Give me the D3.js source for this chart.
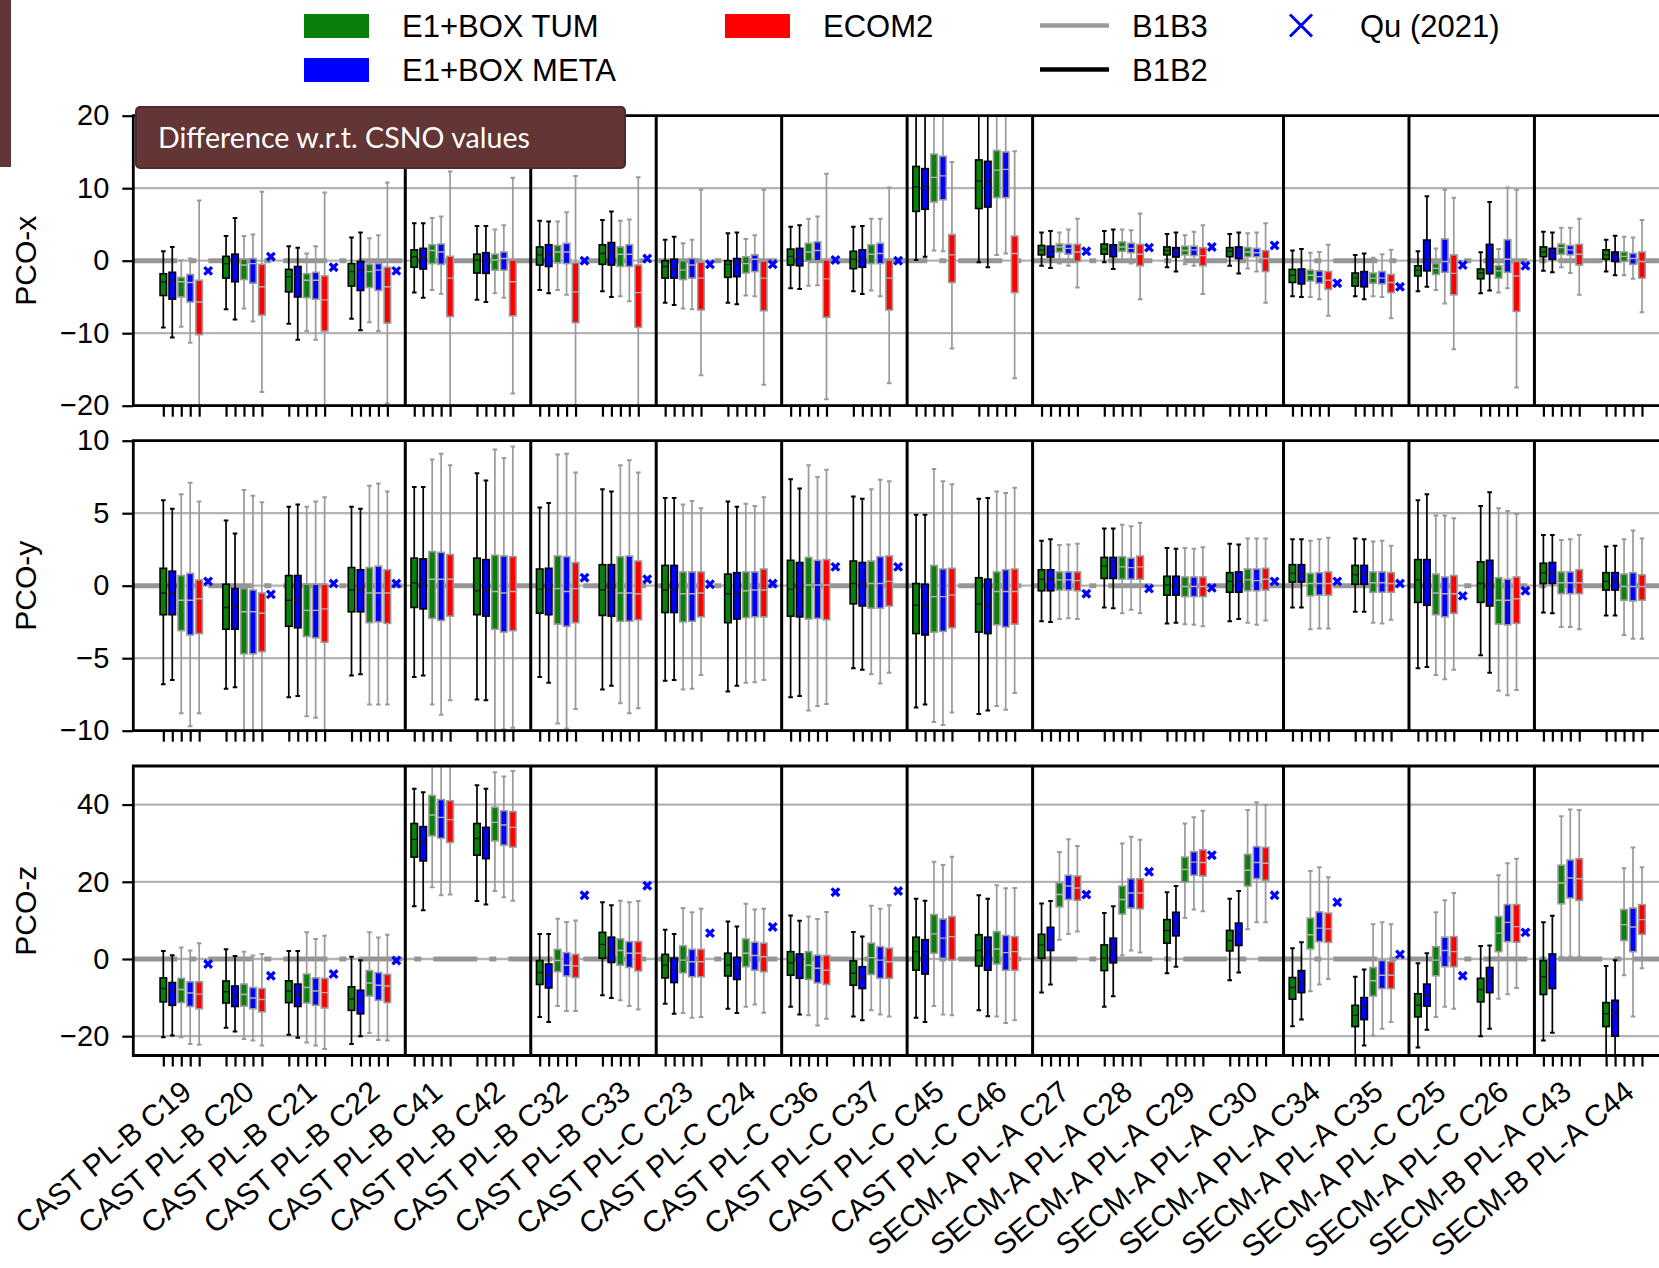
<!DOCTYPE html>
<html>
<head>
<meta charset="utf-8">
<script src="https://cdn.jsdelivr.net/npm/d3@7"></script>
<style>
  html, body { margin: 0; padding: 0; background: #ffffff; }
  svg { display: block; }
</style>
</head>
<body>
<svg id="chart" width="1659" height="1268"></svg>
<script>
// ---------------------------------------------------------------------------
// Satellites (one group of five boxes each)
const satellites = [
  "CAST PL-B C19", "CAST PL-B C20", "CAST PL-B C21", "CAST PL-B C22",
  "CAST PL-B C41", "CAST PL-B C42", "CAST PL-B C32", "CAST PL-B C33",
  "CAST PL-C C23", "CAST PL-C C24", "CAST PL-C C36", "CAST PL-C C37",
  "CAST PL-C C45", "CAST PL-C C46", "SECM-A PL-A C27", "SECM-A PL-A C28",
  "SECM-A PL-A C29", "SECM-A PL-A C30", "SECM-A PL-A C34", "SECM-A PL-A C35",
  "SECM-A PL-C C25", "SECM-A PL-C C26", "SECM-B PL-A C43", "SECM-B PL-A C44"
];

// Solutions in each group: TUM / META with B1B2, then TUM / META / ECOM2 with B1B3
const solutions = ["E1+BOX TUM B1B2", "E1+BOX META B1B2", "E1+BOX TUM B1B3", "E1+BOX META B1B3", "ECOM2 B1B3"];

// Index of the first satellite of each new block (vertical separators)
const blockStarts = [4, 6, 8, 10, 12, 14, 18, 20, 22];

// Box statistics per satellite and solution: [whisker low, q1, median, q3, whisker high]
const pcoX = [
  [[-9.2,-4.8,-2.9,-1.8,1.3],[-10.6,-5.3,-2.7,-1.6,1.9],[-9.1,-5.0,-2.9,-2.3,0.05],[-11.3,-5.7,-3.0,-1.9,0.3],[-22,-10.2,-5.7,-2.7,8.3]],
  [[-6.7,-2.4,-0.4,0.6,3.4],[-8.1,-2.9,-0.1,0.9,5.9],[-6.6,-2.6,-0.6,0.2,3.4],[-8.4,-3.1,-0.4,0.3,3.6],[-18.1,-7.5,-3.6,-0.5,9.5]],
  [[-8.7,-4.3,-2.2,-1.2,2.0],[-10.9,-5.0,-2.2,-0.8,1.8],[-9.7,-5.1,-2.7,-1.8,1.0],[-10.9,-5.3,-2.7,-1.6,2.0],[-21,-9.7,-5.4,-2.1,9.4]],
  [[-8.0,-3.5,-1.5,-0.4,3.2],[-9.6,-4.1,-1.3,-0.1,3.9],[-8.5,-3.7,-1.5,-0.5,3.1],[-9.7,-4.1,-1.3,-0.4,3.5],[-19.7,-8.6,-3.6,-0.9,10.8]],
  [[-4.4,-0.9,0.55,1.5,5.15],[-5.1,-1.15,0.55,1.7,5.15],[-4.05,-0.4,1.4,2.2,5.9],[-4.6,-0.5,1.2,2.3,6.1],[-20.5,-7.7,-2.4,0.6,12.3]],
  [[-5.4,-1.7,0.1,0.9,4.8],[-5.7,-1.75,0.1,1.1,4.8],[-4.5,-1.3,0.1,0.9,4.3],[-5.1,-1.3,0.3,1.2,4.9],[-18.3,-7.6,-2.9,0.1,11.45]],
  [[-4.05,-0.6,0.8,1.9,5.5],[-4.5,-0.8,0.8,2.2,5.4],[-4.05,-0.3,1.2,2.1,5.4],[-4.7,-0.4,1.2,2.4,6.7],[-20.5,-8.55,-4.3,-0.3,11.7]],
  [[-4.2,-0.5,1.0,2.2,5.6],[-5.0,-0.6,1.2,2.5,6.8],[-4.9,-0.8,0.9,1.9,5.5],[-5.6,-0.8,0.9,2.2,5.7],[-19.9,-9.2,-4.4,-0.6,11.5]],
  [[-5.8,-2.4,-0.8,0.0,2.9],[-6.1,-2.4,-1.1,0.2,3.3],[-6.6,-2.6,-1.3,0.0,2.4],[-6.7,-2.4,-0.6,0.3,2.9],[-15.8,-6.8,-2.4,-0.2,9.8]],
  [[-5.8,-2.3,-0.5,0.0,3.8],[-6.0,-2.2,-0.4,0.3,3.9],[-4.8,-1.7,-0.4,0.55,3.0],[-4.9,-1.5,0.2,0.8,3.5],[-17.1,-6.9,-2.4,-0.05,9.8]],
  [[-3.8,-0.6,0.6,1.6,4.7],[-3.9,-0.7,0.6,1.7,4.9],[-3.45,-0.05,1.2,2.4,5.8],[-3.4,0.0,1.4,2.6,6.1],[-19.1,-7.8,-2.5,0.1,12.0]],
  [[-4.2,-1.1,0.2,1.3,4.7],[-4.6,-0.9,0.2,1.5,4.8],[-4.1,-0.4,0.9,2.2,5.8],[-4.9,-0.4,1.0,2.4,5.8],[-16.9,-6.8,-2.4,0.1,10.1]],
  [[0.1,6.8,10.2,13.0,22],[0.55,7.1,10.1,12.7,22],[1.4,8.1,11.5,14.7,22],[1.3,8.4,11.7,14.4,22],[-12.1,-3.0,0.8,3.6,13.6]],
  [[-0.2,7.2,11.0,13.9,22],[-0.9,7.4,10.9,13.7,22],[0.8,8.7,12.5,15.2,22],[1.0,8.7,12.6,15.0,22],[-16.2,-4.4,1.0,3.4,15.1]],
  [[-0.7,0.8,1.5,2.1,3.9],[-1.0,0.5,1.2,2.0,4.1],[-0.4,1.2,1.9,2.3,3.9],[-0.7,0.9,1.7,2.25,4.3],[-3.7,-0.1,1.2,2.25,5.8]],
  [[-0.2,0.9,1.6,2.3,4.1],[-1.15,0.55,1.5,2.2,4.3],[0.1,1.3,1.9,2.6,4.3],[-0.4,1.1,1.7,2.4,4.2],[-5.3,-0.7,0.9,2.25,6.5]],
  [[-0.9,0.8,1.4,1.9,3.7],[-1.5,0.5,1.2,1.8,3.9],[-0.5,0.8,1.4,2.0,3.5],[-0.7,0.7,1.5,2.0,4.0],[-4.6,-0.7,0.7,1.8,4.9]],
  [[-0.7,0.55,1.3,1.8,3.7],[-1.75,0.3,1.2,1.9,3.9],[-1.06,0.55,1.2,1.8,3.8],[-1.5,0.55,1.1,1.7,3.9],[-5.8,-1.5,0.3,1.4,5.15]],
  [[-4.9,-3.0,-2.0,-1.2,1.4],[-5.0,-3.2,-2.0,-1.15,1.6],[-5.0,-2.8,-2.0,-1.3,1.1],[-5.3,-3.1,-2.2,-1.4,1.2],[-7.6,-3.95,-2.7,-1.5,2.2]],
  [[-4.9,-3.5,-2.4,-1.7,0.8],[-5.3,-3.6,-2.4,-1.5,1.0],[-4.9,-3.1,-2.4,-1.7,0.4],[-5.0,-3.2,-2.4,-1.5,0.9],[-7.95,-4.4,-3.0,-1.9,1.5]],
  [[-4.2,-2.1,-1.3,-0.7,1.3],[-3.6,-1.4,0.1,2.85,8.9],[-4.05,-1.9,-1.06,-0.4,1.7],[-5.9,-1.6,-0.1,3.0,9.8],[-12.2,-4.7,-1.75,0.8,8.7]],
  [[-4.5,-2.5,-1.7,-1.15,1.15],[-4.1,-1.8,0.1,2.25,8.1],[-4.4,-2.4,-1.4,-0.7,1.6],[-3.8,-1.6,0.2,2.9,10.1],[-17.5,-7.0,-2.1,-0.1,9.8]],
  [[-1.4,0.55,1.2,1.9,4.0],[-1.6,0.2,1.1,1.7,3.9],[-0.9,0.9,1.8,2.3,4.55],[-1.7,0.8,1.5,2.1,4.55],[-4.7,-0.6,0.9,2.25,5.8]],
  [[-1.5,0.2,0.8,1.5,2.9],[-2.0,-0.1,0.8,1.2,3.45],[-2.0,-0.1,0.6,1.2,3.3],[-2.5,-0.5,0.3,1.0,3.2],[-7.1,-2.4,-0.1,1.2,5.6]]
];

const pcoY = [
  [[-6.8,-2.0,-0.5,1.2,5.9],[-6.5,-2.0,-0.5,1.0,5.3],[-8.8,-3.1,-1.0,0.7,6.3],[-9.7,-3.4,-1.0,0.85,7.1],[-8.8,-3.3,-0.9,0.4,5.8]],
  [[-7.1,-3.0,-1.5,0.1,4.5],[-7.0,-3.0,-1.45,-0.2,3.6],[-11,-4.7,-1.8,-0.2,6.6],[-11,-4.7,-1.8,-0.3,6.2],[-11,-4.55,-1.9,-0.5,5.75]],
  [[-7.7,-2.8,-1.0,0.7,5.45],[-7.6,-2.9,-1.0,0.7,5.6],[-9.0,-3.5,-1.7,0.1,5.45],[-9.1,-3.6,-1.7,0.1,5.8],[-10.5,-3.9,-1.6,0.1,6.1]],
  [[-6.2,-1.8,-0.3,1.25,5.45],[-6.1,-1.8,-0.3,1.1,5.3],[-8.2,-2.55,-0.5,1.25,6.9],[-8.2,-2.5,-0.5,1.35,7.05],[-8.2,-2.6,-0.5,1.1,6.5]],
  [[-6.3,-1.5,0.2,1.9,6.8],[-6.2,-1.6,0.2,1.85,6.8],[-8.2,-2.25,0.45,2.35,8.7],[-8.9,-2.4,0.45,2.3,9.1],[-7.9,-2.1,0.45,2.15,8.3]],
  [[-7.85,-2.0,-0.35,1.9,7.75],[-7.9,-2.1,-0.35,1.8,7.25],[-10.3,-3.0,-0.4,2.1,9.4],[-9.9,-3.2,-0.5,2.05,8.8],[-9.8,-3.1,-0.4,2.0,9.6]],
  [[-6.3,-1.9,-0.25,1.15,5.4],[-6.7,-2.0,-0.3,1.2,5.7],[-9.5,-2.65,-0.2,2.05,9.05],[-9.85,-2.8,-0.4,2.0,9.1],[-8.5,-2.55,-0.2,1.6,7.8]],
  [[-7.15,-2.05,-0.3,1.45,6.65],[-6.9,-2.1,-0.25,1.45,6.5],[-8.1,-2.45,-0.5,2.0,8.3],[-8.8,-2.45,-0.5,2.05,8.65],[-8.45,-2.35,-0.55,1.7,7.8]],
  [[-6.55,-1.85,-0.3,1.4,6.05],[-6.5,-1.85,-0.3,1.4,6.05],[-7.15,-2.5,-0.55,0.95,5.6],[-7.1,-2.45,-0.55,0.95,5.85],[-6.15,-2.15,-0.5,0.95,5.35]],
  [[-7.3,-2.55,-0.55,0.8,5.8],[-6.9,-2.3,-0.5,0.9,5.45],[-6.7,-2.2,-0.35,0.95,5.65],[-6.65,-2.15,-0.3,0.95,5.5],[-6.5,-2.15,-0.3,1.15,6.1]],
  [[-7.7,-2.1,-0.25,1.75,7.35],[-7.6,-2.15,-0.25,1.6,6.7],[-8.6,-2.3,0.05,1.95,8.3],[-8.3,-2.25,0.05,1.75,7.5],[-8.15,-2.35,0.05,1.8,8.0]],
  [[-5.7,-1.25,0.15,1.7,6.15],[-5.8,-1.4,0.15,1.6,6.0],[-6.1,-1.55,0.15,1.7,6.65],[-6.75,-1.55,0.15,2.0,7.3],[-6.0,-1.4,0.3,2.05,7.2]],
  [[-8.4,-3.3,-1.35,0.15,4.9],[-8.2,-3.4,-1.35,0.1,4.9],[-9.4,-3.2,-0.75,1.4,8.05],[-9.6,-3.15,-0.75,1.15,7.2],[-8.75,-2.9,-0.65,1.2,7.0]],
  [[-8.85,-3.2,-1.25,0.55,6.0],[-8.6,-3.3,-1.35,0.45,6.05],[-8.3,-2.7,-0.4,0.95,6.5],[-8.55,-2.85,-0.4,1.1,6.4],[-7.4,-2.65,-0.4,1.15,6.75]],
  [[-2.45,-0.35,0.45,1.1,3.1],[-2.5,-0.35,0.45,1.1,3.2],[-2.3,-0.3,0.4,0.95,2.8],[-2.25,-0.3,0.4,0.95,2.85],[-2.3,-0.35,0.35,0.95,2.9]],
  [[-1.5,0.5,1.35,1.95,3.95],[-1.55,0.5,1.35,1.95,3.95],[-1.9,0.45,1.3,2.0,4.2],[-1.65,0.45,1.25,1.9,4.1],[-1.9,0.45,1.3,2.05,4.35]],
  [[-2.6,-0.65,0.05,0.65,2.6],[-2.55,-0.65,0.05,0.65,2.55],[-2.65,-0.75,-0.05,0.6,2.6],[-2.7,-0.75,-0.05,0.6,2.55],[-2.8,-0.75,-0.05,0.6,2.65]],
  [[-2.45,-0.45,0.3,0.9,2.9],[-2.3,-0.45,0.3,0.95,2.85],[-2.55,-0.35,0.4,1.15,3.25],[-2.7,-0.35,0.35,1.15,3.25],[-2.4,-0.3,0.45,1.2,3.25]],
  [[-1.5,0.25,0.85,1.45,3.2],[-1.5,0.25,0.85,1.45,3.2],[-3.0,-0.7,0.15,0.85,3.1],[-2.95,-0.65,0.15,0.9,3.2],[-2.95,-0.65,0.15,0.95,3.3]],
  [[-1.8,0.1,0.75,1.4,3.25],[-1.8,0.1,0.75,1.4,3.2],[-2.55,-0.45,0.2,0.95,3.05],[-2.6,-0.45,0.2,0.95,3.1],[-2.35,-0.45,0.15,0.9,2.75]],
  [[-5.7,-1.15,0.4,1.8,5.9],[-5.6,-1.35,0.4,1.8,6.3],[-6.15,-2.0,-0.5,0.8,4.85],[-6.45,-2.15,-0.55,0.6,4.85],[-5.8,-1.9,-0.55,0.7,4.65]],
  [[-4.8,-1.15,0.15,1.65,5.5],[-6.0,-1.4,0.1,1.75,6.45],[-7.25,-2.65,-1.0,0.55,5.35],[-7.55,-2.7,-1.0,0.45,5.15],[-7.2,-2.6,-0.9,0.6,4.95]],
  [[-1.85,0.15,0.9,1.55,3.5],[-1.9,0.15,0.9,1.6,3.5],[-2.85,-0.55,0.2,0.95,3.15],[-2.85,-0.55,0.2,0.95,3.2],[-3.0,-0.55,0.2,1.1,3.5]],
  [[-2.05,-0.3,0.3,0.9,2.7],[-2.05,-0.3,0.3,0.9,2.75],[-3.4,-1.0,-0.05,0.8,3.2],[-3.65,-1.05,-0.05,0.9,3.8],[-3.65,-1.0,-0.05,0.75,3.25]]
];

const pcoZ = [
  [[-20.3,-11.1,-7.65,-4.9,2.1],[-19.8,-12.0,-8.5,-6.1,1.0],[-20.3,-11.3,-7.9,-5.0,3.0],[-22.0,-12.3,-8.8,-5.9,2.2],[-22.2,-12.9,-9.1,-5.9,4.1]],
  [[-17.8,-11.4,-8.5,-5.7,2.5],[-18.8,-12.3,-9.65,-7.0,0.8],[-20.7,-12.2,-9.2,-6.5,1.9],[-21.1,-12.9,-10.1,-7.4,0.9],[-22.4,-13.7,-10.5,-7.65,1.3]],
  [[-19.6,-11.3,-8.3,-5.65,2.1],[-20.4,-12.3,-9.4,-6.5,2.1],[-21.6,-11.4,-7.4,-3.9,6.9],[-22.4,-12.0,-8.3,-4.9,5.2],[-23.3,-12.7,-8.7,-5.0,6.0]],
  [[-22.0,-13.3,-10.3,-7.2,0.6],[-20.0,-14.2,-11.1,-8.1,-0.3],[-19.2,-9.6,-6.2,-3.0,6.9],[-21.0,-10.7,-6.8,-3.5,5.6],[-21.1,-11.3,-7.0,-4.0,6.3]],
  [[13.65,26.4,31.0,35.1,44.1],[12.6,25.4,30.35,34.3,43.2],[18.6,31.9,37.3,42.35,51],[16.5,31.3,36.7,41.3,51],[16.7,30.2,36.1,41.0,51]],
  [[15.0,26.9,31.2,35.1,45.0],[14.1,26.0,30.35,34.1,44.1],[17.6,30.6,35.4,39.3,48.4],[16.0,29.5,34.7,38.4,47.3],[15.1,29.0,34.1,38.2,48.7]],
  [[-15.0,-6.6,-3.5,-0.4,6.5],[-16.35,-7.5,-4.2,-1.3,6.5],[-12.2,-3.3,-0.4,2.5,10.4],[-13.5,-4.4,-1.6,1.65,9.6],[-13.5,-4.8,-1.8,1.2,10.0]],
  [[-9.4,0.2,3.8,6.9,14.7],[-10.1,-0.9,2.8,5.65,13.9],[-10.7,-1.6,2.2,5.2,15.1],[-12.2,-2.2,1.5,4.5,14.7],[-13.1,-3.1,1.5,4.5,15.0]],
  [[-11.6,-4.9,-1.6,1.2,7.6],[-14.2,-6.1,-2.7,0.2,6.5],[-14.0,-3.6,-0.3,3.4,13.2],[-15.2,-4.6,-0.7,2.5,12.1],[-15.0,-4.6,-0.7,2.5,13.0]],
  [[-12.9,-4.4,-1.6,1.5,9.7],[-14.0,-5.3,-2.7,0.4,8.4],[-12.4,-2.0,1.5,5.2,14.3],[-11.8,-2.9,0.9,4.35,12.8],[-13.9,-3.3,0.6,4.1,13.0]],
  [[-12.4,-4.2,-1.0,1.9,11.3],[-14.35,-5.0,-1.7,1.3,9.9],[-14.6,-5.3,-1.6,1.9,11.0],[-17.2,-6.2,-2.4,1.0,10.35],[-15.5,-6.6,-2.9,0.9,12.2]],
  [[-14.9,-6.8,-3.7,-0.5,7.0],[-15.9,-7.65,-4.6,-2.0,5.8],[-13.3,-4.0,0.35,4.1,13.8],[-14.4,-5.0,-0.3,3.2,13.0],[-14.9,-5.0,-0.7,2.8,13.9]],
  [[-15.2,-2.9,1.9,5.65,15.6],[-16.35,-3.9,0.8,5.0,15.1],[-12.2,1.5,6.5,11.5,25.2],[-14.35,0.2,5.4,10.35,24.35],[-14.6,-0.3,5.8,11.0,26.5]],
  [[-13.3,-1.8,2.2,6.3,16.5],[-14.8,-2.9,1.9,5.65,15.6],[-14.9,-1.3,2.6,7.1,19.1],[-16.6,-2.9,1.65,6.1,18.3],[-15.9,-2.9,1.9,5.8,18.4]],
  [[-8.7,0.2,3.65,6.4,14.35],[-6.6,2.2,5.2,8.2,15.0],[5.0,13.5,16.7,19.7,27.7],[6.5,15.4,18.9,21.7,31.0],[7.1,15.2,18.4,21.5,29.3]],
  [[-12.4,-3.0,0.2,3.65,11.9],[-9.65,-1.0,2.5,5.4,13.65],[1.0,11.65,15.4,18.9,29.9],[2.2,13.2,17.1,20.8,31.7],[1.7,13.0,17.1,20.8,30.9]],
  [[-3.7,4.1,7.4,10.2,17.3],[-2.0,6.0,8.9,12.1,18.9],[10.6,19.9,23.2,26.4,35.1],[12.8,21.7,25.1,27.8,36.7],[12.35,21.5,25.0,28.3,38.4]],
  [[-5.5,2.1,4.8,7.4,15.6],[-3.5,3.5,6.4,9.3,17.6],[7.7,18.9,23.0,27.1,38.6],[9.5,20.8,25.0,29.1,40.6],[9.5,20.4,24.8,28.9,39.9]],
  [[-17.4,-10.4,-7.4,-4.8,2.8],[-15.65,-8.7,-6.1,-3.0,4.35],[-8.35,2.6,6.3,10.6,22.8],[-6.6,4.5,8.0,12.2,23.8],[-5.2,4.3,7.8,11.9,21.2]],
  [[-27,-17.5,-14.6,-12.0,-4.6],[-22.4,-15.7,-12.4,-10.0,-2.7],[-19.8,-9.6,-5.65,-2.2,9.0],[-18.1,-7.65,-4.2,-0.4,9.5],[-16.35,-7.65,-4.2,-0.7,9.0]],
  [[-22.9,-15.0,-12.0,-9.0,-1.1],[-18.35,-12.2,-9.4,-6.5,1.5],[-15.0,-4.35,-0.3,3.2,12.1],[-12.4,-2.0,2.2,5.65,15.2],[-12.9,-2.0,1.9,5.8,17.1]],
  [[-20.0,-11.1,-7.9,-5.0,3.4],[-18.1,-8.7,-5.3,-2.2,3.5],[-10.3,1.9,6.7,11.0,21.7],[-9.1,4.5,9.5,14.1,24.8],[-7.5,4.35,8.4,14.1,26.0]],
  [[-21.1,-9.2,-4.6,-0.4,9.5],[-19.1,-7.65,-2.7,1.3,11.2],[0.6,14.3,19.7,24.3,37.0],[0.6,15.8,21.0,25.65,38.7],[0.6,15.2,20.8,26.0,38.6]],
  [[-27,-17.5,-14.2,-11.3,-1.8],[-27,-20.0,-14.0,-10.7,-0.3],[-4.2,4.8,8.9,12.8,23.5],[-14.9,1.9,8.3,13.2,28.9],[-2.4,6.4,10.2,14.1,23.8]]
];

// Qu (2021) estimates (null where no value is given)
const quX = [-1.4, 0.55, -0.9, -1.4, null, null, 0.0, 0.3, -0.5, -0.5, 0.1, 0.0,
             null, null, 1.3, 1.8, 1.9, 2.1, -3.1, -3.6, -0.6, -0.7, null, null];
const quY = [0.3, -0.6, 0.15, 0.15, null, null, 0.55, 0.45, 0.1, 0.15, 1.3, 1.3,
             null, null, -0.55, -0.2, -0.15, 0.3, 0.3, 0.15, -0.7, -0.35, null, null];
const quZ = [-1.3, -4.35, -3.9, -0.4, null, null, 16.5, 19.0, 6.7, 8.3, 17.3, 17.6,
             null, null, 16.7, 22.6, 26.9, 16.5, 14.7, 1.2, -4.35, 6.9, null, null];

// Axis ticks per component
const ticksX = [-20, -10, 0, 10, 20];
const ticksY = [-10, -5, 0, 5, 10];
const ticksZ = [-20, 0, 20, 40];

// ---------------------------------------------------------------------------
// Layout and styles
const W = 1659, H = 1268;
const FONT = "'Liberation Sans', Arial, sans-serif";
const SLOTS = 7;                  // 5 boxes + Qu marker + spacing
const BOX_W = 6.5, CAP_W = 4.6;

const boxStyles = [
  { fill: "#0a800a", edge: "#000000", median: "#1a1a1a" },
  { fill: "#0000ff", edge: "#000000", median: "#1a1a1a" },
  { fill: "#0a800a", edge: "#9a9a9a", median: "#b5b5b5" },
  { fill: "#0000ff", edge: "#9a9a9a", median: "#b5b5b5" },
  { fill: "#ff0000", edge: "#9a9a9a", median: "#b5b5b5" }
];

const panels = [
  { label: "PCO-x", stats: pcoX, qu: quX, domain: [-20, 20], ticks: ticksX, top: 115.7, bottom: 405.7 },
  { label: "PCO-y", stats: pcoY, qu: quY, domain: [-10, 10], ticks: ticksY, top: 440.7, bottom: 730.7 },
  { label: "PCO-z", stats: pcoZ, qu: quZ, domain: [-25, 50], ticks: ticksZ, top: 766, bottom: 1055.5 }
];

const plotLeft = 133.3;
const x = d3.scaleLinear().domain([-3.35, 166.9]).range([plotLeft, W]);
const slotOf = (g, b) => g * SLOTS + b;
const minusFmt = d => (d < 0 ? "\u2212" + Math.abs(d) : String(d));

const svg = d3.select("#chart");
svg.append("rect").attr("width", W).attr("height", H).attr("fill", "#ffffff");

const boxSlots = [];
satellites.forEach((s, g) => solutions.forEach((_, b) => boxSlots.push(slotOf(g, b))));

panels.forEach((p, pi) => {
  const y = d3.scaleLinear().domain(p.domain).range([p.bottom, p.top]);
  const root = svg.append("g").attr("class", "panel");

  const clipId = "clip" + pi;
  svg.append("defs").append("clipPath").attr("id", clipId)
    .append("rect").attr("x", plotLeft).attr("y", p.top)
    .attr("width", W - plotLeft + 10).attr("height", p.bottom - p.top);

  const plot = root.append("g").attr("clip-path", `url(#${clipId})`);

  // horizontal reference lines
  plot.selectAll("line.grid").data(p.ticks).join("line")
    .attr("class", "grid")
    .attr("x1", plotLeft).attr("x2", W + 10)
    .attr("y1", d => y(d)).attr("y2", d => y(d))
    .attr("stroke", "#b3b3b3").attr("stroke-width", 2.3);

  // zero line, dash-dot
  plot.append("line")
    .attr("x1", plotLeft).attr("x2", W + 10)
    .attr("y1", y(0)).attr("y2", y(0))
    .attr("stroke", "#969696").attr("stroke-width", 5)
    .attr("stroke-dasharray", "44,12,7,12");

  // boxes
  const boxes = [];
  p.stats.forEach((grp, g) => grp.forEach((st, b) => boxes.push({ g, b, st, xc: x(slotOf(g, b)), style: boxStyles[b] })));

  const bx = plot.selectAll("g.box").data(boxes).join("g").attr("class", "box");
  bx.append("line")
    .attr("x1", d => d.xc).attr("x2", d => d.xc)
    .attr("y1", d => y(d.st[4])).attr("y2", d => y(d.st[3]))
    .attr("stroke", d => d.style.edge).attr("stroke-width", 1.7);
  bx.append("line")
    .attr("x1", d => d.xc).attr("x2", d => d.xc)
    .attr("y1", d => y(d.st[1])).attr("y2", d => y(d.st[0]))
    .attr("stroke", d => d.style.edge).attr("stroke-width", 1.7);
  [0, 4].forEach(k => {
    bx.append("line")
      .attr("x1", d => d.xc - CAP_W / 2).attr("x2", d => d.xc + CAP_W / 2)
      .attr("y1", d => y(d.st[k])).attr("y2", d => y(d.st[k]))
      .attr("stroke", d => d.style.edge).attr("stroke-width", 2);
  });
  bx.append("rect")
    .attr("x", d => d.xc - BOX_W / 2).attr("width", BOX_W)
    .attr("y", d => y(d.st[3])).attr("height", d => Math.max(0.5, y(d.st[1]) - y(d.st[3])))
    .attr("fill", d => d.style.fill).attr("stroke", d => d.style.edge).attr("stroke-width", 1.6);
  bx.append("line")
    .attr("x1", d => d.xc - BOX_W / 2).attr("x2", d => d.xc + BOX_W / 2)
    .attr("y1", d => y(d.st[2])).attr("y2", d => y(d.st[2]))
    .attr("stroke", d => d.style.median).attr("stroke-width", 1.4);

  // Qu (2021) markers
  const qu = p.qu.map((v, g) => ({ v, g })).filter(d => d.v !== null);
  const mk = plot.selectAll("g.qu").data(qu).join("g").attr("class", "qu")
    .attr("transform", d => `translate(${x(slotOf(d.g, 5))},${y(d.v)})`);
  mk.append("path").attr("d", "M-3.8,-3.8L3.8,3.8M-3.8,3.8L3.8,-3.8")
    .attr("stroke", "#0000ff").attr("stroke-width", 3.3).attr("fill", "none");

  // block separators
  root.selectAll("line.sep").data(blockStarts).join("line")
    .attr("class", "sep")
    .attr("x1", d => x(slotOf(d, 0) - 1)).attr("x2", d => x(slotOf(d, 0) - 1))
    .attr("y1", p.top).attr("y2", p.bottom)
    .attr("stroke", "#000").attr("stroke-width", 3);

  // frame (left, top, bottom)
  root.append("path")
    .attr("d", `M${W + 5},${p.top}H${plotLeft}V${p.bottom}H${W + 5}`)
    .attr("fill", "none").attr("stroke", "#000").attr("stroke-width", 2.8);

  // y axis
  const yAxis = root.append("g").attr("transform", `translate(${plotLeft},0)`)
    .call(d3.axisLeft(y).tickValues(p.ticks).tickSize(11).tickPadding(13).tickFormat(minusFmt));
  yAxis.select(".domain").remove();
  yAxis.selectAll(".tick line").attr("stroke", "#000").attr("stroke-width", 2.2);
  yAxis.selectAll(".tick text").attr("font-family", FONT).attr("font-size", 29).attr("fill", "#000");

  // x ticks (one per box)
  const xAxis = root.append("g").attr("transform", `translate(0,${p.bottom})`)
    .call(d3.axisBottom(x).tickValues(boxSlots).tickSize(11).tickFormat(""));
  xAxis.select(".domain").remove();
  xAxis.selectAll(".tick line").attr("stroke", "#000").attr("stroke-width", 2.2);

  // component label
  root.append("text")
    .attr("transform", `translate(36,${(p.top + p.bottom) / 2}) rotate(-90)`)
    .attr("text-anchor", "middle")
    .attr("font-family", FONT).attr("font-size", 30).attr("fill", "#000")
    .text(p.label);
});

// satellite labels
svg.append("g").selectAll("text").data(satellites).join("text")
  .attr("transform", (d, g) => `translate(${x(slotOf(g, 2)) + 12},1095) rotate(-40)`)
  .attr("text-anchor", "end")
  .attr("font-family", FONT).attr("font-size", 30).attr("fill", "#000")
  .text(d => d);

// legend
const legend = svg.append("g").attr("font-family", FONT).attr("font-size", 31).attr("fill", "#000");
const patchItems = [
  { name: "E1+BOX TUM", color: "#0a800a", x: 304, y: 14 },
  { name: "E1+BOX META", color: "#0000ff", x: 304, y: 58 },
  { name: "ECOM2", color: "#ff0000", x: 725, y: 14 }
];
patchItems.forEach(it => {
  legend.append("rect").attr("x", it.x).attr("y", it.y).attr("width", 65).attr("height", 24).attr("fill", it.color);
  legend.append("text").attr("x", it.x + 98).attr("y", it.y + 23).text(it.name);
});
const lineItems = [
  { name: "B1B3", color: "#9a9a9a", y: 25.5 },
  { name: "B1B2", color: "#000000", y: 69.5 }
];
lineItems.forEach(it => {
  legend.append("line").attr("x1", 1040).attr("x2", 1109).attr("y1", it.y).attr("y2", it.y)
    .attr("stroke", it.color).attr("stroke-width", 4.5);
  legend.append("text").attr("x", 1132).attr("y", it.y + 11.5).text(it.name);
});
legend.append("path").attr("d", "M1290,14.5L1312,36.5M1290,36.5L1312,14.5")
  .attr("stroke", "#0000ff").attr("stroke-width", 3).attr("fill", "none");
legend.append("text").attr("x", 1360).attr("y", 37).text("Qu (2021)");

// note box
svg.append("rect").attr("x", 0).attr("y", 0).attr("width", 11).attr("height", 167).attr("fill", "#633535");
svg.append("rect").attr("x", 136).attr("y", 107).attr("width", 489).attr("height", 61).attr("rx", 4)
  .attr("fill", "#633535").attr("stroke", "#4e2a2a").attr("stroke-width", 2);
svg.append("text").attr("x", 158).attr("y", 148)
  .attr("font-family", "Lato, 'Open Sans', sans-serif").attr("font-size", 28).attr("fill", "#ffffff")
  .attr("textLength", 372).attr("lengthAdjust", "spacingAndGlyphs")
  .text("Difference w.r.t. CSNO values");
</script>
</body>
</html>
